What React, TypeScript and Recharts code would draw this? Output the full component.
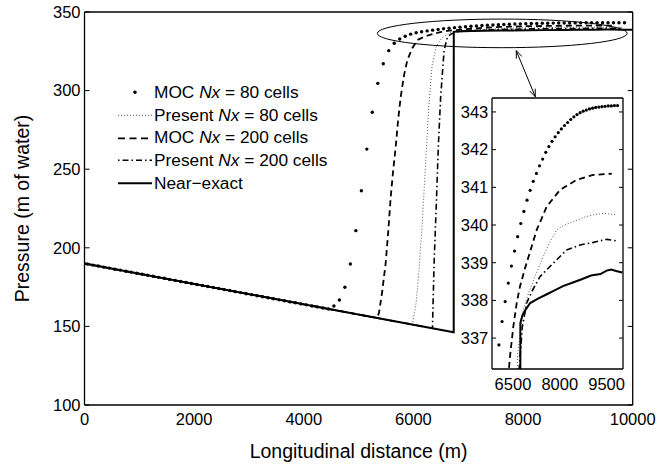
import { LineChart, Line, XAxis, YAxis, ReferenceArea, ReferenceLine, Legend, CartesianGrid } from "recharts"

const FONT = "'Liberation Sans', Arial, Helvetica, sans-serif"

// axis ticks
const xTicks = [0, 2000, 4000, 6000, 8000, 10000]
const yTicks = [100, 150, 200, 250, 300, 350]
const insetXTicks = [6500, 8000, 9500]
const insetYTicks = [337, 338, 339, 340, 341, 342, 343]

// MOC Nx = 80 cells (plotted as dots at cell centres)
const mocCoarseX = [
  50, 150, 250, 350, 450, 550, 650, 750, 850, 950,
  1050, 1150, 1250, 1350, 1450, 1550, 1650, 1750, 1850, 1950,
  2050, 2150, 2250, 2350, 2450, 2550, 2650, 2750, 2850, 2950,
  3050, 3150, 3250, 3350, 3450, 3550, 3650, 3750, 3850, 3950,
  4050, 4150, 4250, 4350, 4450, 4550, 4650, 4750, 4850, 4950,
  5050, 5150, 5250, 5350, 5450, 5550, 5650, 5750, 5850, 5950,
  6050, 6150, 6250, 6350, 6450, 6550, 6650, 6750, 6850, 6950,
  7050, 7150, 7250, 7350, 7450, 7550, 7650, 7750, 7850, 7950,
  8050, 8150, 8250, 8350, 8450, 8550, 8650, 8750, 8850, 8950,
  9050, 9150, 9250, 9350, 9450, 9550, 9650, 9750, 9850,
]
const mocCoarseY = [
  189.7, 189.0, 188.4, 187.7, 187.1, 186.4, 185.8, 185.1, 184.5, 183.8,
  183.2, 182.5, 181.9, 181.2, 180.6, 179.9, 179.3, 178.6, 178.0, 177.3,
  176.7, 176.0, 175.4, 174.7, 174.1, 173.4, 172.8, 172.1, 171.5, 170.8,
  170.2, 169.5, 168.9, 168.2, 167.6, 166.9, 166.3, 165.6, 165.0, 164.3,
  163.7, 163.0, 162.4, 161.7, 161.1, 163.0, 166.8, 174.9, 189.7, 210.9,
  236.3, 262.8, 286.2, 304.6, 317.1, 325.4, 330.1, 332.8, 334.6, 335.9,
  336.82, 337.44, 337.97, 338.46, 338.91, 339.31, 339.69, 340.04, 340.36, 340.66,
  340.92, 341.16, 341.37, 341.57, 341.75, 341.93, 342.08, 342.22, 342.34, 342.45,
  342.55, 342.64, 342.72, 342.8, 342.87, 342.93, 342.98, 343.02, 343.05, 343.08,
  343.1, 343.12, 343.13, 343.14, 343.15, 343.16, 343.16, 343.17, 343.17,
]

// Present Nx = 80 cells
const presCoarseX = [0, 5980, 6050, 6100, 6160, 6220, 6280, 6340, 6420, 6520, 6650, 6830, 7000, 7205, 7420, 7650, 7900, 8150, 8433, 8750, 9074, 9394, 9824]
const presCoarseY = [190, 151.1, 165, 185, 215, 252, 290, 316, 328.5, 333.5, 336.6, 337.75, 338.2, 338.63, 339.07, 339.5, 339.87, 340.0, 340.09, 340.2, 340.27, 340.31, 340.27]

// MOC Nx = 200 cells
const mocFineX = [0, 5330, 5371, 5430, 5493, 5540, 5585, 5630, 5676, 5720, 5768, 5830, 5890, 5980, 6073, 6200, 6300, 6404, 6510, 6619, 6724, 6885, 7260, 7580, 8006, 8542, 9074, 9663]
const mocFineY = [190, 155.4, 158.3, 172, 190, 210, 232, 249, 264, 281, 296, 310, 319.5, 327, 332.2, 334.3, 335.5, 336.51, 337.3, 337.93, 338.37, 338.85, 339.87, 340.49, 340.93, 341.2, 341.33, 341.36]

// Present Nx = 200 cells
const presFineX = [0, 6347, 6377, 6420, 6455, 6497, 6560, 6622, 6700, 6800, 6939, 7099, 7365, 7792, 8221, 8647, 9074, 9503, 9824]
const presFineY = [190, 148.8, 190, 230, 265, 296, 325.8, 334.3, 336.2, 337.3, 337.93, 338.23, 338.63, 338.99, 339.34, 339.47, 339.54, 339.62, 339.58]

// Near-exact
const exactX = [0, 6735, 6736, 6800, 6900, 7050, 7300, 7600, 7800, 8100, 8400, 8700, 9000, 9300, 9500, 9650, 9800, 10000]
const exactY = [190, 146.3, 337.4, 337.6, 337.75, 337.93, 338.05, 338.17, 338.25, 338.38, 338.47, 338.56, 338.66, 338.7, 338.79, 338.82, 338.78, 338.74]

const zip = (xs: number[], ys: number[]) => xs.map((x, i) => ({ x, y: ys[i] }))

const mocCoarse = zip(mocCoarseX, mocCoarseY)
const presCoarse = zip(presCoarseX, presCoarseY)
const mocFine = zip(mocFineX, mocFineY)
const presFine = zip(presFineX, presFineY)
const exact = zip(exactX, exactY)

const DOTTED = "1 2"
const DASHED = "6 4"
const DASHDOT = "6 3 1.5 3"

const legendRows = [
  { pre: "MOC ", post: " = 80 cells", kind: "dot" },
  { pre: "Present ", post: " = 80 cells", kind: "dotted" },
  { pre: "MOC ", post: " = 200 cells", kind: "dashed" },
  { pre: "Present ", post: " = 200 cells", kind: "dashdot" },
  { pre: "Near\u2212exact", post: "", kind: "solid" },
]

const axisStroke = { stroke: "#000", strokeWidth: 1.3 }
const tickStyle = { fill: "#000", fontSize: 16.5, fontFamily: FONT }
const noTick = () => <g />

// inward tick marks on all four sides (mirrored axes, no labels)
function frameTicks(xDomain: number[], xt: number[], yDomain: number[], yt: number[], size: number) {
  const common = { type: "number" as const, allowDataOverflow: true, mirror: true, tick: noTick, tickSize: size, tickLine: { stroke: "#000" } }
  return [
    <XAxis key="bt" xAxisId="bt" orientation="bottom" domain={xDomain} ticks={xt} axisLine={false} {...common} />,
    <XAxis key="tt" xAxisId="tt" orientation="top" domain={xDomain} ticks={xt} axisLine={axisStroke} {...common} />,
    <YAxis key="lt" yAxisId="lt" orientation="left" domain={yDomain} ticks={yt} axisLine={false} {...common} />,
    <YAxis key="rt" yAxisId="rt" orientation="right" domain={yDomain} ticks={yt} axisLine={axisStroke} {...common} />,
  ]
}

function renderSeries(dotR: number) {
  return [
    <Line key="mocCoarse" data={mocCoarse} dataKey="y" type="linear" stroke="none" dot={{ r: dotR, fill: "#000", stroke: "none" }} isAnimationActive={false} />,
    <Line key="presCoarse" data={presCoarse} dataKey="y" type="linear" stroke="#555" strokeWidth={1} strokeDasharray={DOTTED} dot={false} isAnimationActive={false} />,
    <Line key="mocFine" data={mocFine} dataKey="y" type="linear" stroke="#000" strokeWidth={1.8} strokeDasharray={DASHED} dot={false} isAnimationActive={false} />,
    <Line key="presFine" data={presFine} dataKey="y" type="linear" stroke="#000" strokeWidth={1.6} strokeDasharray={DASHDOT} dot={false} isAnimationActive={false} />,
    <Line key="exact" data={exact} dataKey="y" type="linear" stroke="#000" strokeWidth={2} dot={false} isAnimationActive={false} />,
  ]
}

const ellipseShape = (p: any) => (
  <ellipse cx={p.x + p.width / 2} cy={p.y + p.height / 2} rx={Math.abs(p.width) / 2} ry={Math.abs(p.height) / 2} fill="none" stroke="#000" strokeWidth={1} />
)

const arrowShape = (p: any) => {
  const { x1, y1, x2, y2 } = p
  const a = Math.atan2(y2 - y1, x2 - x1)
  const len = 8
  const w = 0.38
  const head = (x: number, y: number, ang: number) =>
    `M${x + len * Math.cos(ang - w)},${y + len * Math.sin(ang - w)}L${x},${y}L${x + len * Math.cos(ang + w)},${y + len * Math.sin(ang + w)}`
  return (
    <g>
      <line x1={x1} y1={y1} x2={x2} y2={y2} stroke="#000" strokeWidth={1} />
      <path d={head(x1, y1, a) + head(x2, y2, a + Math.PI)} fill="none" stroke="#000" strokeWidth={1} />
    </g>
  )
}

function LegendSymbol({ kind }: { kind: string }) {
  return (
    <svg width={34} height={22.6} style={{ display: "block" }}>
      {kind === "dot" && <circle cx={17} cy={11.3} r={1.7} fill="#000" />}
      {kind === "dotted" && <line x1={0} y1={11.3} x2={34} y2={11.3} stroke="#555" strokeWidth={1} strokeDasharray={DOTTED} />}
      {kind === "dashed" && <line x1={0} y1={11.3} x2={34} y2={11.3} stroke="#000" strokeWidth={1.8} strokeDasharray="7 4.5" />}
      {kind === "dashdot" && <line x1={0} y1={11.3} x2={34} y2={11.3} stroke="#000" strokeWidth={1.6} strokeDasharray="1.5 3 6 3" />}
      {kind === "solid" && <line x1={0} y1={11.3} x2={34} y2={11.3} stroke="#000" strokeWidth={2} />}
    </svg>
  )
}

const renderLegend = () => (
  <div style={{ fontFamily: FONT, fontSize: 17.3, color: "#000" }}>
    {legendRows.map((r, i) => (
      <div key={i} style={{ display: "flex", alignItems: "center", height: 22.6, whiteSpace: "nowrap" }}>
        <LegendSymbol kind={r.kind} />
        <span style={{ marginLeft: 2 }}>
          {r.pre}
          {r.kind !== "solid" && <i>Nx</i>}
          {r.post}
        </span>
      </div>
    ))}
  </div>
)

export default function App() {
  return (
    <div style={{ position: "absolute", left: 0, top: 0, width: 661, height: 469, background: "#fff" }}>
      <LineChart width={661} height={469} margin={{ top: 12, right: 28.3, bottom: 0, left: 0 }}>
        <XAxis
          type="number"
          dataKey="x"
          domain={[0, 10000]}
          ticks={xTicks}
          allowDataOverflow
          height={64}
          tickSize={0}
          tickMargin={8.3}
          tickLine={false}
          tick={tickStyle}
          axisLine={axisStroke}
          label={{ value: "Longitudinal distance (m)", position: "insideBottom", offset: 11, fill: "#000", fontSize: 19.5, fontFamily: FONT }}
        />
        <YAxis
          type="number"
          domain={[100, 350]}
          ticks={yTicks}
          allowDataOverflow
          width={84.5}
          tickSize={0}
          tickMargin={4}
          tickLine={false}
          tick={tickStyle}
          axisLine={axisStroke}
          label={{ value: "Pressure (m of water)", angle: -90, position: "insideLeft", offset: 22, fill: "#000", fontSize: 19.5, fontFamily: FONT, style: { textAnchor: "middle" } }}
        />
        {frameTicks([0, 10000], xTicks, [100, 350], yTicks, 5)}
        {renderSeries(1.7)}
        <ReferenceArea x1={5342} x2={9899} y1={327.3} y2={345.5} ifOverflow="visible" shape={ellipseShape} />
        <ReferenceLine segment={[{ x: 7876, y: 325.4 }, { x: 8223, y: 296.1 }]} ifOverflow="visible" shape={arrowShape} />
        <Legend content={renderLegend} layout="vertical" align="center" verticalAlign="middle" wrapperStyle={{ left: 118, top: 81.4, width: "auto", height: "auto" }} />
      </LineChart>

      <div style={{ position: "absolute", left: 440, top: 88 }}>
        <LineChart width={200} height={312} margin={{ top: 10, right: 17, bottom: 0, left: 0 }}>
          <CartesianGrid horizontal={false} vertical={false} fill="#fff" stroke="none" />
          <XAxis type="number" dataKey="x" domain={[5828, 10024]} ticks={insetXTicks} allowDataOverflow height={31} tickSize={0} tickMargin={9.3} tickLine={false} tick={tickStyle} axisLine={axisStroke} />
          <YAxis type="number" domain={[336.18, 343.37]} ticks={insetYTicks} allowDataOverflow width={52} tickSize={0} tickMargin={3.7} tickLine={false} tick={tickStyle} axisLine={axisStroke} />
          {frameTicks([5828, 10024], insetXTicks, [336.18, 343.37], insetYTicks, 4)}
          {renderSeries(1.6)}
        </LineChart>
      </div>
    </div>
  )
}
